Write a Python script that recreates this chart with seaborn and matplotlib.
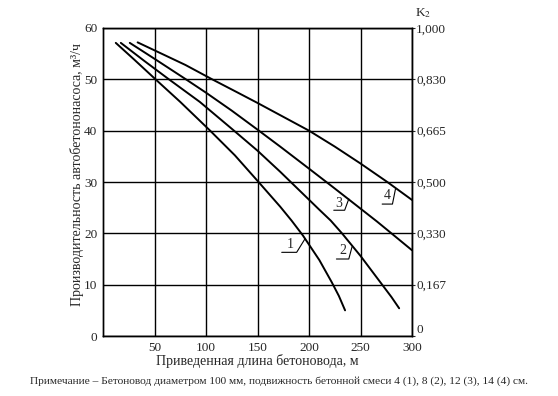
import numpy as np
import pandas as pd
import matplotlib
matplotlib.use("Agg")
import matplotlib.pyplot as plt
import seaborn as sns

sns.set_style("white")
plt.rcParams['font.family'] = ['Liberation Serif', 'DejaVu Serif']
plt.rcParams['mathtext.fontset'] = 'stix'

# данные
x1 = [12.4, 30, 51, 75, 104, 128, 151, 172, 183, 194, 210, 222, 229, 235]
y1 = [57.1, 53.9, 50.0, 45.6, 40.0, 35.2, 30.0, 25.2, 22.5, 19.6, 14.8, 10.5, 7.8, 5.0]
x2 = [17.3, 40, 64, 94, 126, 150, 172, 191, 210, 221, 232, 250, 271, 280, 287.5]
y2 = [57.1, 53.6, 50.0, 45.6, 40.2, 36.1, 32.0, 28.3, 24.6, 22.5, 20.0, 15.6, 10.0, 7.6, 5.4]
x3 = [26, 50, 79, 100, 125, 150, 172, 200, 222, 245, 266, 280, 300]
y3 = [57.1, 54.0, 50.2, 47.4, 43.9, 40.2, 36.9, 32.6, 29.2, 25.6, 22.3, 20.0, 16.7]
x4 = [33.6, 60, 80, 106, 130, 150, 175, 200, 225, 250, 276, 300]
y4 = [57.2, 54.7, 52.8, 50.0, 47.5, 45.4, 42.7, 40.0, 36.9, 33.6, 30.0, 26.5]

curve_names = ['1', '2', '3', '4']
x_ticks = [50, 100, 150, 200, 250, 300]
y_ticks = [0, 10, 20, 30, 40, 50, 60]
k2_labels = ['0', '0,167', '0,330', '0,500', '0,665', '0,830', '1,000']

# подписи кривых: (текст, x, y подписи, начало/конец полки, точка на кривой)
labels = [
    ('1', 181.5, 17.9, 173.5, 188.0, 16.3, 196.3, 19.0),
    ('2', 232.5, 16.6, 226.6, 238.6, 15.0, 241.8, 17.4),
    ('3', 229.0, 25.8, 224.0, 234.6, 24.5, 238.6, 26.7),
    ('4', 276.0, 27.4, 271.0, 281.0, 25.7, 284.0, 28.7),
]

df = pd.concat([
    pd.DataFrame({'x': xs, 'y': ys, 'curve': n})
    for xs, ys, n in zip([x1, x2, x3, x4], [y1, y2, y3, y4], curve_names)
])

fig = plt.figure(figsize=(5.58, 3.96), dpi=100)
ax = fig.add_axes([0.1846, 0.1515, 0.7384 - 0.1846, 0.9293 - 0.1515])

ax.grid(True, color='black', lw=1.0)
ax.set_axisbelow(True)
sns.lineplot(data=df, x='x', y='y', units='curve', estimator=None, sort=False,
             color='black', lw=1.4, ax=ax)

for t, tx, ty, ux0, ux1, uy, px, py in labels:
    ax.text(tx, ty, t, fontsize=10, ha='center', va='center')
    ax.plot([ux0, ux1, px], [uy, uy, py], color='black', lw=0.8)

ax.set_xlim(0, 300)
ax.set_ylim(0, 60)
ax.set_xticks(x_ticks)
ax.set_yticks(y_ticks)
ax.tick_params(length=0, labelsize=9.5, pad=4)
ax.set_xlabel('Приведенная длина бетоновода, м', fontsize=10, labelpad=0)
ax.set_ylabel('Производительность автобетононасоса, м³/ч', fontsize=10)
ax.yaxis.set_label_coords(-0.062, 0.523)
for s in ax.spines.values():
    s.set_color('black')
    s.set_linewidth(1.0)

ax2 = ax.twinx()
ax2.set_ylim(0, 60)
ax2.set_yticks(y_ticks)
ax2.set_yticklabels(k2_labels)
ax2.tick_params(length=2, labelsize=9.5, pad=1)
ax2.get_yticklabels()[0].set_va('bottom')
for s in ax2.spines.values():
    s.set_color('black')
    s.set_linewidth(1.0)
ax2.text(1.01, 1.025, 'K$_2$', transform=ax.transAxes, fontsize=9.5,
         ha='left', va='bottom')

fig.text(0.5, 0.038, 'Примечание – Бетоновод диаметром 100 мм, подвижность бетонной смеси '
         '4 (1), 8 (2), 12 (3), 14 (4) см.', fontsize=8.2, ha='center', va='center')

plt.savefig('out.png', dpi=100)
